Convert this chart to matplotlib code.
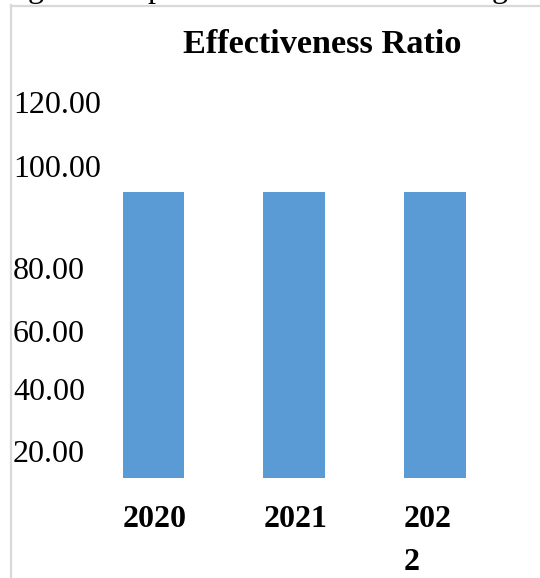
import matplotlib
matplotlib.use("Agg")
import matplotlib.pyplot as plt
from matplotlib.lines import Line2D
import matplotlib.transforms as mtransforms

# ---- data ----
categories = ["2020", "2021", "202\n2"]
values = [94.8, 94.8, 94.8]
tick_labels = ["120.00", "100.00", "80.00", "60.00", "40.00", "20.00"]
title = "Effectiveness Ratio"

# ---- layout ----
W, H = 540, 578
DPI = 100
FONT = "Liberation Serif"
bar_color = "#5B9BD5"
frame_color = "#D9D9D9"

fig = plt.figure(figsize=(W / DPI, H / DPI), dpi=DPI)
fig.patch.set_facecolor("white")


def fx(px):
    return px / W


def fy(py):
    return 1 - py / H


# axes: baseline (value 0) at pixel y=478, top at pixel y=6
k = (478 - 192) / values[0]          # px per unit
ax_top_px, ax_bot_px = 6, 478
ax_left_px, ax_right_px = 11, 540
ax = fig.add_axes([fx(ax_left_px), fy(ax_bot_px),
                   fx(ax_right_px) - fx(ax_left_px), (ax_bot_px - ax_top_px) / H])
step = 140.75
x0 = 153.5
ax.set_xlim((ax_left_px - x0) / step, (ax_right_px - x0) / step)
ax.set_ylim(0, (ax_bot_px - ax_top_px) / k)
ax.axis("off")

xs = list(range(len(categories)))
bw = 0.44
ax.bar(xs, values, width=bw, color=bar_color, zorder=2)

# y labels (positions as in the reference, baseline pixels)
label_baselines_px = [113, 177, 279, 342, 400, 462]
trans_y = mtransforms.blended_transform_factory(fig.transFigure, ax.transData)
for lab, py in zip(tick_labels, label_baselines_px):
    ax.text(fx(13), (478 - py) / k, lab, transform=trans_y, ha="left",
            va="baseline", fontsize=23, family=FONT, color="black")

# x labels, left-aligned with bar left edge (wrapped lines as in reference)
line_baselines_px = [527, 570]
for x, lab in zip(xs, categories):
    for line, py in zip(lab.split("\n"), line_baselines_px):
        ax.text(x - bw / 2, (478 - py) / k, line, ha="left", va="baseline",
                fontsize=23, fontweight="bold", family=FONT, color="black",
                clip_on=False)

# title
fig.text(fx(322.5), fy(53), title, ha="center", va="baseline", fontsize=24.7,
         fontweight="bold", family=FONT, color="black")

# frame lines
fig.add_artist(Line2D([fx(11), fx(11)], [fy(5), 0], color=frame_color, lw=1.6,
                      transform=fig.transFigure))
fig.add_artist(Line2D([fx(11), 1], [fy(6), fy(6)], color=frame_color, lw=1.6,
                      transform=fig.transFigure))

# cropped descenders of the document text above the chart
for px, ch in [(28, "g"), (147, "p"), (492, "g")]:
    fig.text(fx(px), fy(-3), ch, ha="left", va="baseline", fontsize=23,
             family=FONT, color="black")

fig.savefig("out.png", dpi=DPI, facecolor="white")
